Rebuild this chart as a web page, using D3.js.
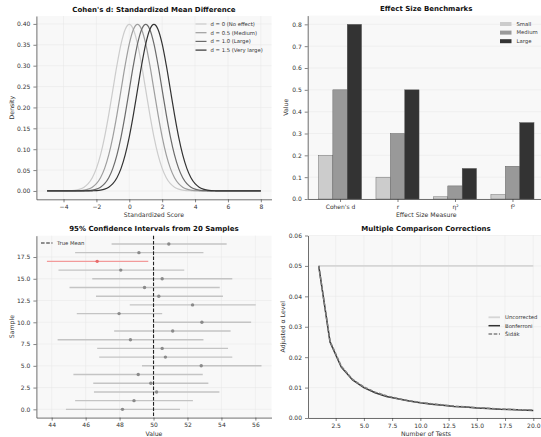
<!DOCTYPE html>
<html>
<head>
<meta charset="utf-8">
<script src="https://cdn.jsdelivr.net/npm/d3@7"></script>
<style>
  body { margin: 0; background: #fff; }
  svg { display: block; font-family: "DejaVu Sans", sans-serif; }
</style>
</head>
<body>
<div id="chart"></div>
<script>
// ---- data ----
// panel 1: standard normal shape read off the d = 0 curve, shifted by each effect size
const normalZ = [-4, -3.75, -3.5, -3.25, -3, -2.75, -2.5, -2.25, -2, -1.75, -1.5, -1.25, -1, -0.75, -0.5, -0.25,
  0, 0.25, 0.5, 0.75, 1, 1.25, 1.5, 1.75, 2, 2.25, 2.5, 2.75, 3, 3.25, 3.5, 3.75, 4];
const normalDensity = [0.0001, 0.0004, 0.0009, 0.002, 0.0044, 0.0091, 0.0175, 0.0317, 0.054, 0.0863, 0.1295, 0.1826, 0.242, 0.3011, 0.3521, 0.3867,
  0.3989, 0.3867, 0.3521, 0.3011, 0.242, 0.1826, 0.1295, 0.0863, 0.054, 0.0317, 0.0175, 0.0091, 0.0044, 0.002, 0.0009, 0.0004, 0.0001];
const effectShifts = [0, 0.5, 1.0, 1.5];
const effectLabels = ["d = 0 (No effect)", "d = 0.5 (Medium)", "d = 1.0 (Large)", "d = 1.5 (Very large)"];
const scoreRange = [-5, 8];

// panel 2: benchmarks
const measures = ["Cohen's d", "r", "η²", "f²"];
const sizeNames = ["Small", "Medium", "Large"];
const smallVals = [0.2, 0.1, 0.01, 0.02];
const mediumVals = [0.5, 0.3, 0.06, 0.15];
const largeVals = [0.8, 0.5, 0.14, 0.35];

// panel 3: confidence intervals (sample 0..19)
const sampleMeans = [48.17, 48.85, 50.18, 49.84, 49.1, 52.81, 50.7, 50.51, 48.64, 51.13,
  52.85, 47.97, 52.3, 50.31, 49.47, 50.51, 48.07, 46.68, 49.14, 50.9];
const ciLower = [44.84, 45.38, 46.49, 46.45, 45.28, 49.32, 46.8, 46.68, 44.35, 47.68,
  49.97, 45.48, 48.6, 46.61, 45.05, 46.39, 44.4, 43.72, 45.38, 47.53];
const ciUpper = [51.56, 52.32, 53.88, 53.23, 52.9, 56.36, 54.64, 54.39, 52.94, 54.54,
  55.75, 50.51, 56.02, 54.09, 53.9, 54.64, 51.81, 49.69, 52.94, 54.31];
const trueMean = 50;

// panel 4: multiple comparison corrections
const numTests = [1, 2, 3, 4, 5, 6, 7, 8, 9, 10, 11, 12, 13, 14, 15, 16, 17, 18, 19, 20];
const uncorrected = [0.05, 0.05, 0.05, 0.05, 0.05, 0.05, 0.05, 0.05, 0.05, 0.05,
  0.05, 0.05, 0.05, 0.05, 0.05, 0.05, 0.05, 0.05, 0.05, 0.05];
const bonferroni = [0.05, 0.025, 0.0167, 0.0125, 0.01, 0.0083, 0.0071, 0.0063, 0.0056, 0.005,
  0.0045, 0.0042, 0.0038, 0.0036, 0.0033, 0.0031, 0.0029, 0.0028, 0.0026, 0.0025];
const sidak = [0.05, 0.0253, 0.017, 0.0127, 0.0102, 0.0085, 0.0073, 0.0064, 0.0057, 0.0051,
  0.0047, 0.0043, 0.0039, 0.0037, 0.0034, 0.0032, 0.003, 0.0028, 0.0027, 0.0026];

// ---- layout ----
const W = 541, H = 437;
const TICK_FS = 6, LABEL_FS = 6.2, TITLE_FS = 7, LEG_FS = 5.3;

const svg = d3.select("#chart").append("svg").attr("width", W).attr("height", H);

function panel(x0, x1, y0, y1, xDomain, yDomain) {
  const g = svg.append("g");
  g.append("rect").attr("x", x0).attr("y", y0).attr("width", x1 - x0).attr("height", y1 - y0).attr("fill", "#f8f8f8");
  const x = d3.scaleLinear().domain(xDomain).range([x0, x1]);
  const y = d3.scaleLinear().domain(yDomain).range([y1, y0]);
  return { g, x, y, x0, x1, y0, y1 };
}

function grid(p, xTicks, yTicks) {
  const gg = p.g.append("g").attr("stroke", "#e6e6e6").attr("stroke-width", 0.5);
  if (xTicks) xTicks.forEach(t => gg.append("line").attr("x1", p.x(t)).attr("x2", p.x(t)).attr("y1", p.y0).attr("y2", p.y1));
  if (yTicks) yTicks.forEach(t => gg.append("line").attr("y1", p.y(t)).attr("y2", p.y(t)).attr("x1", p.x0).attr("x2", p.x1));
}

function styleAxis(sel) {
  sel.attr("color", "#333");
  sel.select(".domain").attr("stroke", "#333").attr("stroke-width", 0.7);
  sel.selectAll(".tick line").attr("stroke", "#333").attr("stroke-width", 0.6);
  sel.selectAll(".tick text").attr("font-size", TICK_FS).attr("font-family", "DejaVu Sans").attr("fill", "#333");
}

function axes(p, xAxis, yAxis) {
  p.g.append("g").attr("transform", `translate(0,${p.y1})`).call(xAxis.tickSize(3).tickPadding(2.5).tickSizeOuter(0)).call(styleAxis);
  p.g.append("g").attr("transform", `translate(${p.x0},0)`).call(yAxis.tickSize(3).tickPadding(3).tickSizeOuter(0)).call(styleAxis);
}

function labels(p, title, xl, yl, ylx) {
  const cx = (p.x0 + p.x1) / 2;
  svg.append("text").attr("x", cx).attr("y", p.y0 - 4.5).attr("text-anchor", "middle")
    .attr("font-size", TITLE_FS).attr("font-weight", "bold").attr("fill", "#111").text(title);
  svg.append("text").attr("x", cx).attr("y", p.y1 + 18).attr("text-anchor", "middle")
    .attr("font-size", LABEL_FS).attr("fill", "#333").text(xl);
  svg.append("text").attr("transform", `translate(${ylx},${(p.y0 + p.y1) / 2}) rotate(-90)`)
    .attr("text-anchor", "middle").attr("dy", "0.35em")
    .attr("font-size", LABEL_FS).attr("fill", "#333").text(yl);
}

const fmtMinus = f => v => f(v).replace("-", "\u2212");

// ---- panel 1 ----
{
  const p = panel(36.4, 271.5, 16, 199.3, [-5.65, 8.65], [-0.01995, 0.41895]);
  const xt = [-4, -2, 0, 2, 4, 6, 8];
  const yt = d3.range(0, 0.401, 0.05);
  grid(p, xt, yt);
  const colors = ["#cccccc", "#9e9e9e", "#6b6b6b", "#333333"];
  const line = d3.line().x(d => p.x(d[0])).y(d => p.y(d[1])).curve(d3.curveMonotoneX);
  effectShifts.forEach((d, i) => {
    const pts = normalZ.map((z, j) => [z + d, normalDensity[j]])
      .filter(q => q[0] >= scoreRange[0] && q[0] <= scoreRange[1]);
    pts.unshift([scoreRange[0], 0]);
    pts.push([scoreRange[1], 0]);
    p.g.append("path").datum(pts).attr("d", line).attr("fill", "none")
      .attr("stroke", colors[i]).attr("stroke-width", 1.2);
  });
  axes(p, d3.axisBottom(p.x).tickValues(xt).tickFormat(fmtMinus(d3.format("d"))),
    d3.axisLeft(p.y).tickValues(yt).tickFormat(d3.format(".2f")));
  labels(p, "Cohen's d: Standardized Mean Difference", "Standardized Score", "Density", 11.5);
  effectLabels.forEach((t, i) => {
    const yy = 24 + i * 8.7;
    svg.append("line").attr("x1", 195.5).attr("x2", 206.5).attr("y1", yy).attr("y2", yy)
      .attr("stroke", colors[i]).attr("stroke-width", 1.2);
    svg.append("text").attr("x", 210.5).attr("y", yy).attr("dy", "0.35em")
      .attr("font-size", LEG_FS).attr("fill", "#333").text(t);
  });
}

// ---- panel 2 ----
{
  const p = panel(307.7, 544.8, 15.6, 199, [-0.5625, 3.5625], [0, 0.84]);
  const yt = d3.range(0, 0.801, 0.1);
  grid(p, null, yt);
  const series = [smallVals, mediumVals, largeVals];
  const colors = ["#cccccc", "#999999", "#333333"];
  const bw = 0.25;
  series.forEach((vals, k) => {
    p.g.selectAll(null).data(vals).enter().append("rect")
      .attr("x", (v, i) => p.x(i + (k - 1) * bw - bw / 2))
      .attr("width", p.x(bw) - p.x(0))
      .attr("y", v => p.y(v))
      .attr("height", v => p.y(0) - p.y(v))
      .attr("fill", colors[k]).attr("stroke", "#555").attr("stroke-width", 0.4);
  });
  axes(p, d3.axisBottom(p.x).tickValues([0, 1, 2, 3]).tickFormat(i => measures[i]),
    d3.axisLeft(p.y).tickValues(yt).tickFormat(d3.format(".1f")));
  labels(p, "Effect Size Benchmarks", "Effect Size Measure", "Value", 286);
  sizeNames.forEach((t, i) => {
    const yy = 24 + i * 8.6;
    svg.append("rect").attr("x", 500).attr("y", yy - 2).attr("width", 11.5).attr("height", 4).attr("fill", colors[i]);
    svg.append("text").attr("x", 516.5).attr("y", yy).attr("dy", "0.35em")
      .attr("font-size", LEG_FS).attr("fill", "#333").text(t);
  });
}

// ---- panel 3 ----
{
  const p = panel(36.4, 271.5, 235.7, 417.6, [43.1, 56.95], [-0.95, 19.95]);
  const xt = [44, 46, 48, 50, 52, 54, 56];
  const yt = d3.range(0, 17.6, 2.5);
  grid(p, xt, yt);
  const missed = sampleMeans.map((m, i) => ciLower[i] > trueMean || ciUpper[i] < trueMean);
  sampleMeans.forEach((m, i) => {
    p.g.append("line").attr("x1", p.x(ciLower[i])).attr("x2", p.x(ciUpper[i]))
      .attr("y1", p.y(i)).attr("y2", p.y(i))
      .attr("stroke", missed[i] ? "#f29a9a" : "#c4c4c4").attr("stroke-width", 1.4);
    p.g.append("circle").attr("cx", p.x(m)).attr("cy", p.y(i)).attr("r", 1.7)
      .attr("fill", missed[i] ? "#e86a6a" : "#8a8a8a");
  });
  p.g.append("line").attr("x1", p.x(trueMean)).attr("x2", p.x(trueMean)).attr("y1", p.y0).attr("y2", p.y1)
    .attr("stroke", "#222").attr("stroke-width", 1.1).attr("stroke-dasharray", "3.6,1.6");
  axes(p, d3.axisBottom(p.x).tickValues(xt).tickFormat(d3.format("d")),
    d3.axisLeft(p.y).tickValues(yt).tickFormat(d3.format(".1f")));
  labels(p, "95% Confidence Intervals from 20 Samples", "Value", "Sample", 11.5);
  svg.append("line").attr("x1", 41).attr("x2", 52.5).attr("y1", 243).attr("y2", 243)
    .attr("stroke", "#222").attr("stroke-width", 1.1).attr("stroke-dasharray", "3.6,1.6");
  svg.append("text").attr("x", 57).attr("y", 243).attr("dy", "0.35em")
    .attr("font-size", LEG_FS).attr("fill", "#333").text("True Mean");
}

// ---- panel 4 ----
{
  const p = panel(308, 544, 235.5, 418, [0.05, 20.95], [0, 0.06]);
  const xt = d3.range(2.5, 20.1, 2.5);
  const yt = d3.range(0, 0.0601, 0.01);
  grid(p, xt, yt);
  const mk = vals => numTests.map((n, i) => [n, vals[i]]);
  const line = d3.line().x(d => p.x(d[0])).y(d => p.y(d[1]));
  const styles = [
    { name: "Uncorrected", vals: uncorrected, color: "#d6d6d6", w: 1.8, dash: null },
    { name: "Bonferroni", vals: bonferroni, color: "#333333", w: 1.5, dash: null },
    { name: "Šidák", vals: sidak, color: "#808080", w: 1.5, dash: "3.6,1.6" }
  ];
  styles.forEach(s => {
    p.g.append("path").datum(mk(s.vals)).attr("d", line).attr("fill", "none")
      .attr("stroke", s.color).attr("stroke-width", s.w).attr("stroke-dasharray", s.dash);
  });
  axes(p, d3.axisBottom(p.x).tickValues(xt).tickFormat(d3.format(".1f")),
    d3.axisLeft(p.y).tickValues(yt).tickFormat(d3.format(".2f")));
  labels(p, "Multiple Comparison Corrections", "Number of Tests", "Adjusted α Level", 283);
  styles.forEach((s, i) => {
    const yy = 317.3 + i * 8.4;
    svg.append("line").attr("x1", 488.5).attr("x2", 500).attr("y1", yy).attr("y2", yy)
      .attr("stroke", s.color).attr("stroke-width", s.w).attr("stroke-dasharray", s.dash);
    svg.append("text").attr("x", 505).attr("y", yy).attr("dy", "0.35em")
      .attr("font-size", LEG_FS).attr("fill", "#333").text(s.name);
  });
}
</script>
</body>
</html>
